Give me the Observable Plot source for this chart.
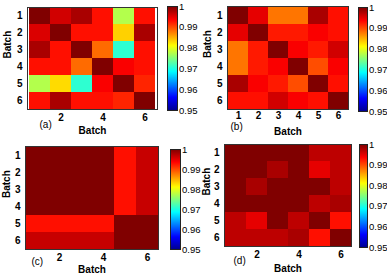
<!DOCTYPE html>
<html><head><meta charset="utf-8">
<script src="https://cdn.jsdelivr.net/npm/d3@7"></script>
<script src="https://cdn.jsdelivr.net/npm/@observablehq/plot@0.6"></script>
<style>
body{margin:0;background:#fff}
#root{position:relative;width:387px;height:277px;overflow:hidden;background:#fff}
#root svg{position:absolute}
</style></head><body><div id="root"></div>
<script>
const batches = [1, 2, 3, 4, 5, 6];
const panelLabels = ["(a)", "(b)", "(c)", "(d)"];
const axisTitle = "Batch";
const colorTicks = [0.95, 0.96, 0.97, 0.98, 0.99, 1];
const xTicksA = [2, 4, 6];
const xTicksB = [1, 2, 3, 4, 5, 6];
const xTicksC = [2, 4, 6];
const xTicksD = [2, 4, 6];

const valuesA = [
  [1.000, 0.996, 0.998, 0.993, 0.9775, 0.993],
  [0.9955, 1.000, 0.993, 0.993, 0.9835, 0.998],
  [0.998, 0.993, 1.000, 0.9885, 0.971, 0.993],
  [0.993, 0.993, 0.9885, 1.000, 0.994, 0.993],
  [0.9775, 0.983, 0.971, 0.994, 1.000, 0.992],
  [0.993, 0.998, 0.993, 0.993, 0.992, 1.000]
];
const valuesB = [
  [1.000, 0.995, 0.988, 0.988, 0.998, 0.993],
  [0.995, 1.000, 0.9925, 0.9925, 0.994, 0.993],
  [0.988, 0.9925, 1.000, 0.994, 0.9925, 0.996],
  [0.988, 0.9925, 0.994, 1.000, 0.990, 0.994],
  [0.998, 0.994, 0.9925, 0.990, 1.000, 0.993],
  [0.993, 0.993, 0.996, 0.994, 0.993, 1.000]
];
const valuesC = [
  [1.000, 1.000, 1.000, 1.000, 0.993, 0.9965],
  [1.000, 1.000, 1.000, 1.000, 0.993, 0.9965],
  [1.000, 1.000, 1.000, 1.000, 0.993, 0.9965],
  [1.000, 1.000, 1.000, 1.000, 0.993, 0.9965],
  [0.993, 0.993, 0.993, 0.993, 1.000, 1.000],
  [0.9965, 0.9965, 0.9965, 0.9965, 1.000, 1.000]
];
const valuesD = [
  [1.000, 1.000, 1.000, 1.000, 0.997, 0.997],
  [1.000, 1.000, 0.998, 1.000, 0.995, 0.997],
  [1.000, 0.998, 1.000, 1.000, 1.000, 0.997],
  [1.000, 1.000, 1.000, 1.000, 0.997, 0.998],
  [0.997, 0.995, 1.000, 0.997, 1.000, 0.993],
  [0.997, 0.997, 0.997, 0.998, 0.993, 1.000]
];

// MATLAB "jet" colormap stops over [0.95, 1]
const jet = {
  type: "linear",
  domain: [0.95, 0.95625, 0.96875, 0.98125, 0.99375, 1],
  range: ["#00008f", "#0000ff", "#00ffff", "#ffff00", "#ff0000", "#800000"],
  interpolate: "rgb",
  clamp: true
};

const FONT = "'Liberation Sans', Arial, sans-serif";
const root = document.getElementById("root");

function place(svg, left, top) {
  svg.style.left = left + "px";
  svg.style.top = top + "px";
  root.appendChild(svg);
}

function heatmap(values, xTicks, label, box, lab) {
  const data = [];
  values.forEach((row, i) => row.forEach((v, j) => data.push({row: batches[i], col: batches[j], v})));
  const [L, T, W, H] = box.svg;
  const [x0, y0, x1, y1] = box.frame;
  const svg = Plot.plot({
    width: W, height: H,
    marginLeft: x0 - L, marginTop: y0 - T, marginRight: L + W - x1, marginBottom: T + H - y1,
    style: {fontSize: "10px", fontWeight: "bold", fontFamily: FONT, background: "transparent", overflow: "visible", color: "#000"},
    x: {domain: batches, padding: 0, ticks: xTicks, tickSize: 0, tickPadding: lab.tp, label: null},
    y: {domain: batches, padding: 0, tickSize: 0, tickPadding: 5, label: null},
    color: jet,
    marks: [
      Plot.cell(data, {x: "col", y: "row", fill: "v"}),
      Plot.frame({stroke: "#333", strokeWidth: 1}),
      Plot.text([label], {frameAnchor: "bottom-left", dx: lab.ldx, dy: lab.ldy, text: d => d, fontSize: 10, fontWeight: "normal"}),
      Plot.text([axisTitle], {frameAnchor: "bottom", dy: lab.bdy, text: d => d, fontWeight: "bold", fontSize: 10}),
      Plot.text([axisTitle], {frameAnchor: "left", dx: lab.ydx, rotate: -90, text: d => d, fontWeight: "bold", fontSize: 10})
    ]
  });
  place(svg, L, T);
}

function colorbar(box) {
  const [L, T, W, H] = box.svg;
  const [x0, y0, x1, y1] = box.frame;
  const svg = Plot.plot({
    width: W, height: H,
    marginLeft: x0 - L, marginTop: y0 - T, marginRight: L + W - x1, marginBottom: T + H - y1,
    style: {fontSize: "9.5px", fontFamily: FONT, background: "transparent", overflow: "visible", color: "#000"},
    x: {domain: [0, 1], axis: null},
    y: {domain: [0.95, 1], ticks: colorTicks, tickFormat: d => d === 1 ? "1" : d.toFixed(2), axis: "right", tickSize: 0, tickPadding: 1.5, label: null},
    color: jet,
    marks: [
      Plot.raster({fill: (x, y) => y, x1: 0, x2: 1, y1: 0.95, y2: 1, width: 1, height: 200}),
      Plot.frame({stroke: "#222", strokeWidth: 1})
    ]
  });
  place(svg, L, T);
}

heatmap(valuesA, xTicksA, panelLabels[0], {svg: [0, 0, 162, 138], frame: [27, 7, 157, 109]}, {ldx: 12, ldy: 18, bdy: 24, ydx: -20, tp: 4});
heatmap(valuesB, xTicksB, panelLabels[1], {svg: [194, 0, 159, 138], frame: [227, 6, 348, 109]}, {ldx: 3, ldy: 20, bdy: 25, ydx: -20, tp: 2});
heatmap(valuesC, xTicksC, panelLabels[2], {svg: [0, 138, 163, 139], frame: [25, 146, 158, 249]}, {ldx: 6, ldy: 15, bdy: 23, ydx: -19, tp: 4});
heatmap(valuesD, xTicksD, panelLabels[3], {svg: [194, 138, 162, 139], frame: [224, 144, 351, 246]}, {ldx: 9, ldy: 17, bdy: 25, ydx: -18, tp: 4});

colorbar({svg: [167, 0, 40, 118], frame: [167, 6, 177, 110]});
colorbar({svg: [358, 0, 29, 118], frame: [358, 7, 367, 111]});
colorbar({svg: [170, 138, 30, 118], frame: [170, 149, 180, 249]});
colorbar({svg: [359, 138, 28, 118], frame: [359, 144, 367, 247]});
</script></body></html>
